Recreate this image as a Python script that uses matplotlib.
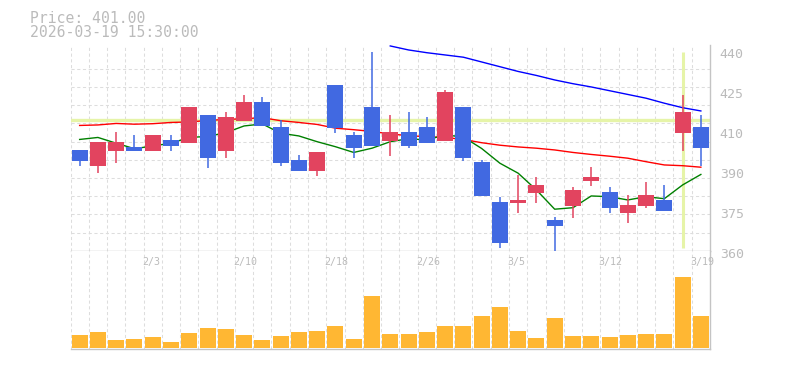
"""
Candlestick chart with 5/25/75-day moving averages and a volume pane
"""

import matplotlib
matplotlib.use("Agg")
import matplotlib.pyplot as plt
import matplotlib.transforms as mtransforms
import numpy as np

# trading days
dates = ["1/28", "1/29", "1/30", "2/2", "2/3", "2/4", "2/5", "2/6", "2/9", "2/10",
         "2/12", "2/13", "2/16", "2/17", "2/18", "2/19", "2/20", "2/24", "2/25", "2/26",
         "2/27", "3/2", "3/3", "3/4", "3/5", "3/6", "3/9", "3/10", "3/11", "3/12",
         "3/13", "3/16", "3/17", "3/18", "3/19"]

opens = [400.3, 394.0, 400.0, 401.5, 400.0, 404.3, 403.2, 414.3, 400.0, 412.0,
         419.5, 409.5, 396.3, 392.0, 426.3, 406.3, 417.5, 404.0, 407.5, 409.5,
         404.0, 417.5, 395.5, 379.5, 379.1, 383.1, 372.3, 378.0, 387.9, 383.5,
         375.2, 378.0, 380.3, 407.2, 409.5]
highs = [400.3, 403.5, 407.5, 406.3, 406.3, 406.3, 417.5, 414.3, 415.5, 422.3,
         421.5, 412.3, 398.3, 399.5, 426.3, 407.5, 439.5, 414.3, 415.5, 413.5,
         424.3, 417.5, 396.3, 381.5, 390.3, 389.6, 373.5, 385.5, 393.5, 385.5,
         382.3, 387.5, 386.3, 422.3, 414.3]
lows = [394.0, 391.2, 395.2, 400.0, 400.0, 400.0, 403.2, 393.2, 397.2, 412.0,
        410.0, 394.0, 392.0, 390.0, 407.2, 397.2, 402.0, 398.0, 401.2, 403.2,
        404.0, 396.0, 382.0, 361.2, 375.2, 379.1, 360.0, 373.2, 386.0, 375.2,
        371.2, 377.2, 376.0, 400.0, 394.0]
closes = [396.0, 403.5, 403.5, 400.0, 406.3, 401.9, 417.5, 397.2, 413.5, 419.5,
          410.0, 395.2, 392.0, 399.5, 409.2, 401.2, 402.0, 407.5, 402.0, 403.2,
          423.5, 397.2, 382.0, 363.2, 380.3, 386.3, 370.0, 384.3, 389.5, 377.2,
          378.3, 382.3, 376.0, 415.5, 401.0]

# volume (x100 shares)
volumes = [127, 157, 77, 87, 107, 57, 147, 197, 187, 127,
           77, 117, 157, 167, 217, 87, 517, 137, 137, 157,
           217, 217, 317, 407, 167, 97, 297, 117, 117, 107,
           127, 137, 137, 707, 317]

# moving averages (nan = not drawn)
nan = np.nan
ma5 = [404.5, 405.3, 403.0, 400.8, 401.9, 403.0, 405.3, 405.7, 407.2, 409.9,
       410.7, 407.0, 405.9, 403.6, 401.6, 399.3, 401.0, 403.6, 404.8, 404.3,
       406.3, 405.5, 400.9, 395.0, 391.0, 384.3, 376.6, 377.2, 381.9, 381.6,
       380.3, 381.6, 380.8, 386.3, 390.5]
ma25 = [410.1, 410.3, 410.9, 410.6, 410.8, 411.3, 411.5, 412.1, 412.5, 412.8,
        413.2, 412.0, 411.3, 410.5, 409.0, 408.4, 407.7, 406.7, 406.0, 405.6,
        405.3, 404.5, 403.2, 402.2, 401.5, 401.0, 400.3, 399.3, 398.5, 397.8,
        397.0, 395.6, 394.3, 394.0, 393.4]
ma75 = [nan] * 17 + [441.9, 440.3, 439.2, 438.3, 437.4, 435.5, 433.6, 431.7, 430.1,
                     428.3, 426.8, 425.5, 424.0, 422.5, 421.0, 419.0, 417.2, 415.9]

y_ticks = [360, 376, 392, 408, 424, 440]
y_labels = ["360", "375", "390", "410", "425", "440"]

price_text = "Price: 401.00"
time_text = "2026-03-19 15:30:00"
cursor_index = 33
cursor_price = 412.2

W, H = 785, 370
MONO = "DejaVu Sans Mono"
TEXT_GRAY = "#bbbbbb"
GRID_GRAY = "#dddddd"
SPINE_GRAY = "#c4c4c4"
UP_COLOR = "#e2445f"
DOWN_COLOR = "#4169e1"
VOL_COLOR = "#ffb733"
CURSOR_COLOR = "#e6f4a8"


def px_axes(fig, left, top, right, bottom):
    """按像素位置添加坐标轴"""
    return fig.add_axes([left / W, 1 - bottom / H, (right - left) / W, (bottom - top) / H])


def style_frame(ax):
    for side in ("top", "left"):
        ax.spines[side].set_visible(False)
    for side in ("bottom", "right"):
        ax.spines[side].set_color(SPINE_GRAY)
        ax.spines[side].set_linewidth(1.0)
    ax.tick_params(which="both", length=0)
    ax.set_xticks([])
    ax.set_xticks(np.arange(-0.5, len(dates) - 1, 1), minor=True)
    ax.grid(which="minor", axis="x", color=GRID_GRAY, linewidth=0.75, linestyle=(0, (3, 2.5)))
    ax.set_xlim(-0.5, len(dates) - 0.5)


def plot_price(ax):
    x = np.arange(len(dates))
    style_frame(ax)

    top = 360 + (250.7 - 45) / 2.5
    ax.set_ylim(360, top)
    ax.set_yticks(np.linspace(360, 440, 12), minor=True)
    ax.grid(which="minor", axis="y", color=GRID_GRAY, linewidth=0.75, linestyle=(0, (3, 2.5)))
    ax.set_axisbelow(True)

    ax.yaxis.tick_right()
    ax.set_yticks(y_ticks)
    ax.set_yticklabels(y_labels, fontfamily=MONO, fontsize=9.5, color=TEXT_GRAY)
    ax.tick_params(axis="y", which="major", pad=7)
    offset = mtransforms.ScaledTranslation(0, -2 / 100, ax.figure.dpi_scale_trans)
    for label in ax.get_yticklabels():
        label.set_transform(label.get_transform() + offset)

    # 十字光标
    ax.axhline(cursor_price, color=CURSOR_COLOR, linewidth=2.4, zorder=1)
    ax.vlines(cursor_index, 361, 439.6, color=CURSOR_COLOR, linewidth=2.2, zorder=1)

    # 移动平均线
    ax.plot(x, ma25, color="#ff0000", linewidth=1.0, zorder=2)
    ax.plot(x, ma5, color="#008000", linewidth=1.0, zorder=2)
    ax.plot(x, ma75, color="#0000ff", linewidth=1.0, zorder=2)

    # K线
    o = np.array(opens)
    c = np.array(closes)
    colors = [UP_COLOR if cc >= oo else DOWN_COLOR for oo, cc in zip(o, c)]
    ax.vlines(x, lows, highs, colors=colors, linewidth=1.1, zorder=3)
    ax.bar(x, np.maximum(np.abs(c - o), 0.4), bottom=np.minimum(o, c), width=0.876,
           color=colors, zorder=4)


def plot_volume(ax):
    x = np.arange(len(dates))
    style_frame(ax)
    ax.set_ylim(-16, 970)
    ax.set_yticks([])
    ax.set_axisbelow(True)
    ax.bar(x, volumes, width=0.876, color=VOL_COLOR, zorder=2)

    trans = mtransforms.blended_transform_factory(ax.transData, ax.transAxes)
    for i in range(4, len(dates), 5):
        ax.text(i - 0.6, 0.885, dates[i], transform=trans, ha="left", va="center",
                fontfamily=MONO, fontsize=7.2, color=TEXT_GRAY)


fig = plt.figure(figsize=(W / 100, H / 100), dpi=100)
ax_price = px_axes(fig, 70.5, 45, 710, 250.7)
ax_vol = px_axes(fig, 70.5, 250.7, 710, 349.3)

plot_price(ax_price)
plot_volume(ax_vol)

fig.text(30 / W, 1 - 22.7 / H, price_text, va="baseline", ha="left",
         fontfamily=MONO, fontsize=10.6, color=TEXT_GRAY)
fig.text(30 / W, 1 - 37.3 / H, time_text, va="baseline", ha="left",
         fontfamily=MONO, fontsize=10.6, color=TEXT_GRAY)

fig.savefig("out.png", dpi=100)
